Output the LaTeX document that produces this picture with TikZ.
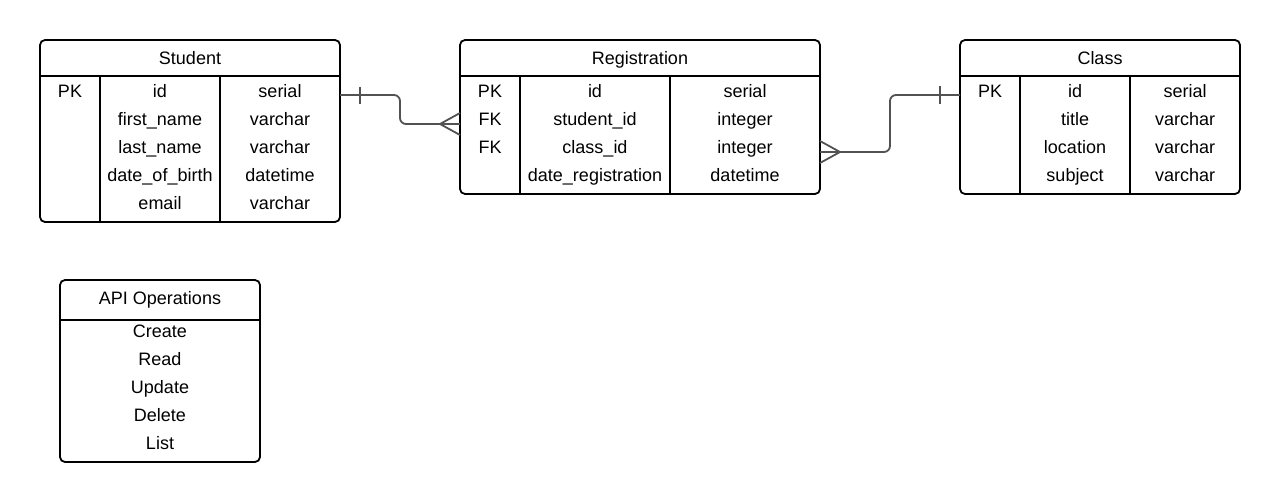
\documentclass[tikz,border=0pt]{standalone}
\usepackage{fontspec}
\setmainfont{Liberation Sans}
\begin{document}
\begin{tikzpicture}[x=1pt,y=-1pt,
  tbl/.style={draw=black, line width=1.8pt, rounded corners=5pt, inner sep=0pt, outer sep=0pt, anchor=north west},
  sep/.style={draw=black, line width=1.6pt},
  txt/.style={inner sep=0pt, anchor=base, font=\fontsize{18}{20}\selectfont},
  conn/.style={draw=black!68, line width=1.8pt},
  ]
\useasboundingbox (0,0) rectangle (1280,503);

% ---------- Student ----------
\node[tbl, minimum width=300pt, minimum height=182pt] (stu) at (40,40) {};
\draw[sep] (40,76) -- (340,76);
\draw[sep] (100,76) -- (100,222);
\draw[sep] (220,76) -- (220,222);
\node[txt] (stuh) at (190,64) {Student};
\node[txt] (s1a) at (70,97.5) {PK};
\node[txt] (s1b) at (160,97.5) {id};
\node[txt] (s1c) at (280,97.5) {serial};
\node[txt] (s2b) at (160,125.5) {first\_name};
\node[txt] (s2c) at (280,125.5) {varchar};
\node[txt] (s3b) at (160,153.5) {last\_name};
\node[txt] (s3c) at (280,153.5) {varchar};
\node[txt] (s4b) at (160,181.5) {date\_of\_birth};
\node[txt] (s4c) at (280,181.5) {datetime};
\node[txt] (s5b) at (160,209.5) {email};
\node[txt] (s5c) at (280,209.5) {varchar};

% ---------- Registration ----------
\node[tbl, minimum width=360pt, minimum height=154pt] (reg) at (460,40) {};
\draw[sep] (460,76) -- (820,76);
\draw[sep] (520,76) -- (520,194);
\draw[sep] (670,76) -- (670,194);
\node[txt] (regh) at (640,64) {Registration};
\node[txt] (r1a) at (490,97.5) {PK};
\node[txt] (r1b) at (595,97.5) {id};
\node[txt] (r1c) at (745,97.5) {serial};
\node[txt] (r2a) at (490,125.5) {FK};
\node[txt] (r2b) at (595,125.5) {student\_id};
\node[txt] (r2c) at (745,125.5) {integer};
\node[txt] (r3a) at (490,153.5) {FK};
\node[txt] (r3b) at (595,153.5) {class\_id};
\node[txt] (r3c) at (745,153.5) {integer};
\node[txt] (r4b) at (595,181.5) {date\_registration};
\node[txt] (r4c) at (745,181.5) {datetime};

% ---------- Class ----------
\node[tbl, minimum width=280pt, minimum height=154pt] (cls) at (960,40) {};
\draw[sep] (960,76) -- (1240,76);
\draw[sep] (1020,76) -- (1020,194);
\draw[sep] (1130,76) -- (1130,194);
\node[txt] (clsh) at (1100,64) {Class};
\node[txt] (c1a) at (990,97.5) {PK};
\node[txt] (c1b) at (1075,97.5) {id};
\node[txt] (c1c) at (1185,97.5) {serial};
\node[txt] (c2b) at (1075,125.5) {title};
\node[txt] (c2c) at (1185,125.5) {varchar};
\node[txt] (c3b) at (1075,153.5) {location};
\node[txt] (c3c) at (1185,153.5) {varchar};
\node[txt] (c4b) at (1075,181.5) {subject};
\node[txt] (c4c) at (1185,181.5) {varchar};

% ---------- API Operations ----------
\node[tbl, minimum width=200pt, minimum height=182pt] (api) at (60,280) {};
\draw[sep] (60,320) -- (260,320);
\node[txt] (apih) at (160,304) {API Operations};
\node[txt] (a1) at (160,337.5) {Create};
\node[txt] (a2) at (160,365.5) {Read};
\node[txt] (a3) at (160,393.5) {Update};
\node[txt] (a4) at (160,421.5) {Delete};
\node[txt] (a5) at (160,449.5) {List};

% ---------- connectors ----------
\coordinate (e1s) at (340,95);
\coordinate (e1r) at (460,124);
\draw[conn, rounded corners=6pt] (e1s) -- (400,95) -- (400,124) -- (e1r);
\draw[conn] (360,87) -- (360,104);
\draw[conn] (460,113) -- (440,124) -- (460,135);

\coordinate (e2c) at (960,95);
\coordinate (e2r) at (820,152);
\draw[conn, rounded corners=6pt] (e2c) -- (890,95) -- (890,152) -- (e2r);
\draw[conn] (940,86) -- (940,104);
\draw[conn] (820,141) -- (840,152) -- (820,163);
\end{tikzpicture}
\end{document}
